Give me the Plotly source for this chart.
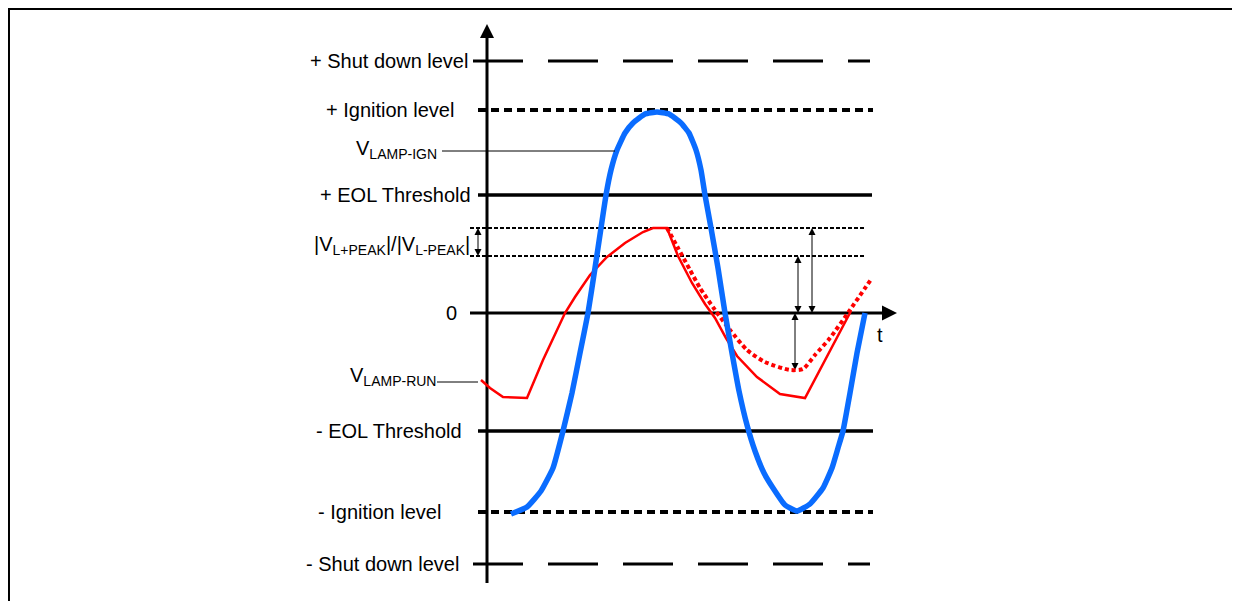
import plotly.graph_objects as go

# ---- data (time in px-like units, voltage in px-like units; 0 = zero line) ----
level_names = ["+ Shut down level", "+ Ignition level", "+ EOL Threshold", "0",
               "- EOL Threshold", "- Ignition level", "- Shut down level"]
level_values = [252, 203, 118, 0, -118, -199, -251]
peak_hi = 85
peak_lo = 57

blue_t = [511, 527, 541, 553, 563, 572, 580, 588, 595, 601, 606, 611, 617, 625, 633, 645,
          657, 669, 681, 689, 696, 701, 705, 711, 718, 725, 732, 739, 747, 755, 764, 773,
          785, 797, 810, 823, 832, 838, 843, 850, 857, 865]
blue_v = [-201, -194, -178, -155, -118, -80, -40, 0, 45, 85, 118, 143, 163, 180, 190, 199,
          201, 199, 190, 180, 163, 143, 118, 85, 45, 0, -40, -78, -112, -138, -160, -175,
          -192, -198, -191, -175, -155, -135, -118, -80, -40, 0]

red_t = [481, 490, 503, 527, 543, 555, 565, 575, 590, 607, 625, 643, 653, 667,
         678, 692, 705, 715, 726, 737, 757, 780, 805, 851]
red_v = [-67, -75, -84, -85, -47, -22, 0, 16, 38, 56, 70, 81, 85, 85,
         57, 30, 9, -5, -25, -43, -64, -81, -85, 2]

redd_t = [667, 678, 690, 700, 715, 730, 747, 765, 790, 803, 815, 830, 850, 872]
redd_v = [85, 65, 43, 25, 3, -17, -37, -49, -57, -56, -42, -25, 3, 35]

axis_t0 = 487
t_end = 897

# page offset of the figure inside the browser (default body margin)
OFF = 8

fig = go.Figure()
BLACK = "#000000"

# level lines
level_x0 = [473, 478, 478, 470, 478, 478, 473]
level_x1 = [870, 873, 872, 885, 873, 873, 870]
level_dash = ["50px,25px", "8px,5px", "solid", "solid", "solid", "8px,5px", "50px,25px"]
level_w = [3, 4, 3.5, 3, 3.5, 4, 3]
for v, x0, x1, d, w in zip(level_values, level_x0, level_x1, level_dash, level_w):
    fig.add_trace(go.Scatter(x=[x0, x1], y=[v, v], mode="lines",
                             line=dict(color=BLACK, width=w, dash=d), hoverinfo="skip"))

for v in [peak_hi, peak_lo]:
    fig.add_trace(go.Scatter(x=[470, 864], y=[v, v], mode="lines",
                             line=dict(color=BLACK, width=2, dash="4px,2px"), hoverinfo="skip"))

# vertical axis with arrow
fig.add_trace(go.Scatter(x=[axis_t0, axis_t0], y=[-270, 278], mode="lines",
                         line=dict(color=BLACK, width=3), hoverinfo="skip"))
fig.add_trace(go.Scatter(x=[axis_t0], y=[289], mode="markers",
                         marker=dict(symbol="arrow-up", size=14, color=BLACK), hoverinfo="skip"))
fig.add_trace(go.Scatter(x=[t_end], y=[0], mode="markers",
                         marker=dict(symbol="arrow-right", size=15, color=BLACK), hoverinfo="skip"))

# measurement arrows
meas = [(478, peak_hi, peak_lo), (812, peak_hi, 0), (798, peak_lo, 0), (795, 0, -57)]
for x, a, b in meas:
    fig.add_trace(go.Scatter(x=[x, x], y=[a - 4, b + 4], mode="lines",
                             line=dict(color=BLACK, width=1), hoverinfo="skip"))
    fig.add_trace(go.Scatter(x=[x, x], y=[a, b], mode="markers",
                             marker=dict(symbol=["arrow-up", "arrow-down"], size=7, color=BLACK),
                             hoverinfo="skip"))

# curves
fig.add_trace(go.Scatter(x=redd_t, y=redd_v, mode="lines",
                         line=dict(color="#ff0000", width=4, dash="4px,3px", shape="spline", smoothing=0.6),
                         hoverinfo="skip"))
fig.add_trace(go.Scatter(x=red_t, y=red_v, mode="lines",
                         line=dict(color="#ff0000", width=2.5), hoverinfo="skip"))
fig.add_trace(go.Scatter(x=blue_t, y=blue_v, mode="lines",
                         line=dict(color="#0a6cff", width=5.5, shape="spline", smoothing=0.4),
                         hoverinfo="skip"))

shapes = [
    dict(type="rect", xref="paper", yref="paper", x0=0.0008, x1=1.01, y0=-0.02, y1=0.9985,
         line=dict(color=BLACK, width=2)),
    dict(type="line", xref="x", yref="y", x0=442, x1=615, y0=162, y1=162,
         line=dict(color=BLACK, width=1)),
    dict(type="line", xref="x", yref="y", x0=437, x1=478, y0=-69, y1=-69,
         line=dict(color=BLACK, width=1)),
]

ann = []
FONT = "Arial, Liberation Sans, sans-serif"
label_x = [470, 456, 473, 459, 464, 443, 461]
for name, v, x in zip(level_names, level_values, label_x):
    ann.append(dict(x=x, y=v, text=name, showarrow=False, xanchor="right", yanchor="middle",
                    font=dict(size=20, family=FONT, color=BLACK)))
ann.append(dict(x=439, y=164, text="V<sub>LAMP-IGN</sub>", showarrow=False, xanchor="right",
                yanchor="middle", font=dict(size=20, family=FONT, color=BLACK)))
ann.append(dict(x=472, y=68, text="|V<sub>L+PEAK</sub>|/|V<sub>L-PEAK</sub>|", showarrow=False,
                xanchor="right", yanchor="middle", font=dict(size=20, family=FONT, color=BLACK)))
ann.append(dict(x=438, y=-63, text="V<sub>LAMP-RUN</sub>", showarrow=False, xanchor="right",
                yanchor="middle", font=dict(size=20, family=FONT, color=BLACK)))
ann.append(dict(x=880, y=-22, text="t", showarrow=False, xanchor="center", yanchor="middle",
                font=dict(size=20, family=FONT, color=BLACK)))

fig.update_layout(
    width=1240, height=601, margin=dict(l=0, r=0, t=0, b=0),
    paper_bgcolor="white", plot_bgcolor="white", showlegend=False,
    xaxis=dict(range=[OFF, 1240 + OFF], visible=False, fixedrange=True),
    yaxis=dict(range=[313 - 601 - OFF, 313 - OFF], visible=False, fixedrange=True),
    shapes=shapes, annotations=ann,
)

fig.write_html("out.html")
